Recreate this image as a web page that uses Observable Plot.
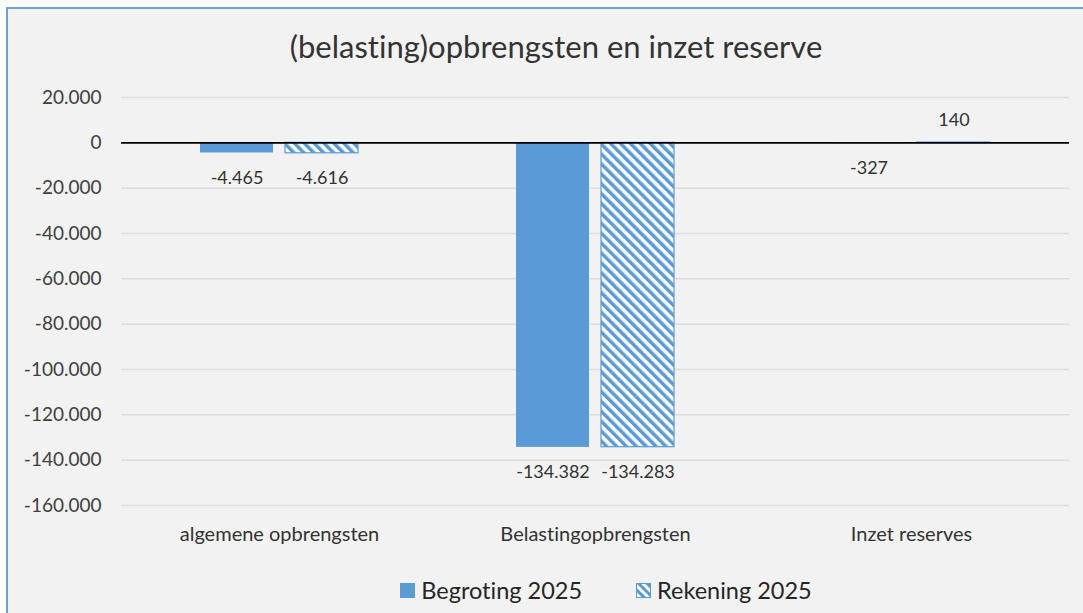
<!DOCTYPE html>
<html>
<head>
<meta charset="utf-8">
<script src="https://cdn.jsdelivr.net/npm/d3@7"></script>
<script src="https://cdn.jsdelivr.net/npm/@observablehq/plot@0.6"></script>
<style>
  html, body { margin: 0; padding: 0; background: #ffffff; }
  body { width: 1083px; height: 613px; position: relative; overflow: hidden; font-family: Lato, "Open Sans", sans-serif; font-variant-ligatures: none; }
  svg text { font-variant-ligatures: none; }
  #frame { position: absolute; left: 6px; top: 7px; width: 1100px; height: 620px; background: #f2f2f2; border-left: 2px solid #6ea2d6; border-top: 2px solid #6ea2d6; }
  #title { position: absolute; left: 0; top: 27px; width: 1112px; text-align: center; font-size: 31px; color: #333333; line-height: 38px; }
  #chart { position: absolute; left: 0; top: 80px; }
  #legend { position: absolute; top: 575px; left: 0; width: 1212px; display: flex; justify-content: center; gap: 54px; font-size: 23.5px; color: #262626; line-height: 30px; }
  #legend .item { display: flex; align-items: center; gap: 6px; }
</style>
</head>
<body>
<div id="frame"></div>
<div id="title">(belasting)opbrengsten en inzet reserve</div>
<div id="chart"></div>
<div id="legend"></div>
<script>
const categories = ["algemene opbrengsten", "Belastingopbrengsten", "Inzet reserves"];
const series = ["Begroting 2025", "Rekening 2025"];
const begroting = [-4465, -134382, -327];
const rekening = [-4616, -134283, 140];
const yTicks = [20000, 0, -20000, -40000, -60000, -80000, -100000, -120000, -140000, -160000];

const blue = "#5b9bd5";
const nl = d3.formatLocale({decimal: ",", thousands: ".", grouping: [3], currency: ["€", ""], minus: "-"});
const fmt = nl.format(",d");

const data = [];
categories.forEach((c, i) => {
  data.push({category: c, series: series[0], value: begroting[i]});
  data.push({category: c, series: series[1], value: rekening[i]});
});

const defs = () => {
  const g = d3.create("svg:defs");
  const p = g.append("pattern")
    .attr("id", "hatch")
    .attr("patternUnits", "userSpaceOnUse")
    .attr("width", 7).attr("height", 7)
    .attr("patternTransform", "rotate(-45)");
  p.append("rect").attr("width", 7).attr("height", 7).attr("fill", "#ffffff");
  p.append("rect").attr("width", 3.5).attr("height", 7).attr("fill", blue);
  return g.node();
};

const chart = Plot.plot({
  width: 1083,
  height: 480,
  marginTop: 17,
  marginBottom: 55,
  marginLeft: 120,
  marginRight: 13,
  style: {background: "transparent", fontFamily: "Lato, 'Open Sans', sans-serif", fontSize: "18px", color: "#404040"},
  fx: {domain: categories, padding: 0, label: null},
  x: {domain: series, axis: null, paddingInner: 0.14, paddingOuter: 0.91},
  y: {domain: [-160000, 20000], nice: false, label: null},
  marks: [
    defs,
    Plot.gridY(yTicks, {stroke: "#dcdcdc", strokeOpacity: 1, strokeWidth: 1.5}),
    Plot.barY(data.filter(d => d.series === series[0]), {fx: "category", x: "series", y: "value", fill: blue}),
    Plot.barY(data.filter(d => d.series === series[1]), {fx: "category", x: "series", y: "value", fill: "url(#hatch)", stroke: blue, strokeWidth: 1.2}),
    Plot.ruleY([0], {stroke: "#000000", strokeWidth: 1.6}),
    Plot.text(data.filter(d => d.value < 0), {fx: "category", x: "series", y: "value", text: d => fmt(d.value), dy: 25, fill: "#333333", fontSize: 18}),
    Plot.text(data.filter(d => d.value >= 0), {fx: "category", x: "series", y: "value", text: d => fmt(d.value), dy: -22, fill: "#333333", fontSize: 18}),
    Plot.axisY(yTicks, {tickSize: 0, tickPadding: 20, tickFormat: fmt, fill: "#404040", fontSize: 19}),
    Plot.axisFx({anchor: "bottom", tickSize: 0, tickPadding: 21, fill: "#333333", fontSize: 20, label: null})
  ]
});
document.getElementById("chart").appendChild(chart);

// legend
const legend = d3.select("#legend");
series.forEach((s, i) => {
  const item = legend.append("div").attr("class", "item");
  const sw = item.append("svg").attr("width", 15).attr("height", 15);
  if (i === 0) {
    sw.append("rect").attr("width", 15).attr("height", 15).attr("fill", blue);
  } else {
    const p = sw.append("defs").append("pattern")
      .attr("id", "hatchLegend")
      .attr("patternUnits", "userSpaceOnUse")
      .attr("width", 6).attr("height", 6)
      .attr("patternTransform", "rotate(-45)");
    p.append("rect").attr("width", 6).attr("height", 6).attr("fill", "#ffffff");
    p.append("rect").attr("width", 3).attr("height", 6).attr("fill", blue);
    sw.append("rect").attr("x", 0.5).attr("y", 0.5).attr("width", 14).attr("height", 14).attr("fill", "url(#hatchLegend)").attr("stroke", blue);
  }
  item.append("span").text(s);
});
</script>
</body>
</html>
